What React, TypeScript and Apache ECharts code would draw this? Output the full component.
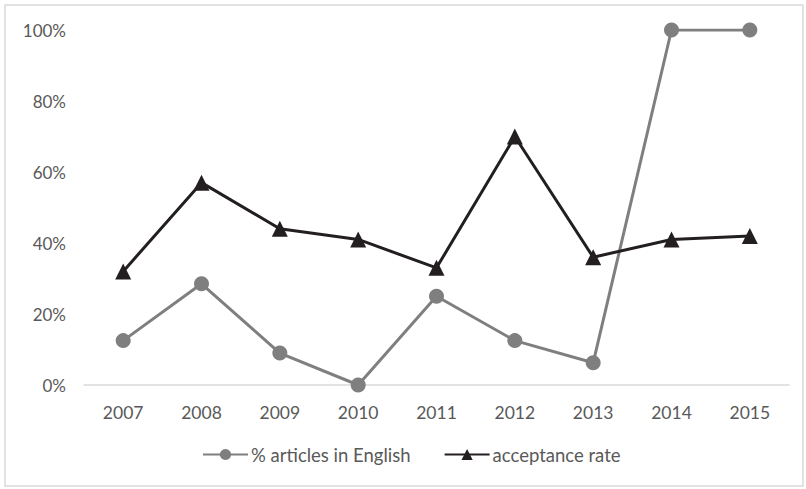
import React, { useEffect, useRef } from "react";
import * as echarts from "echarts";

const years = ["2007", "2008", "2009", "2010", "2011", "2012", "2013", "2014", "2015"];
const englishShare = [0.125, 0.285, 0.09, 0, 0.25, 0.125, 0.0625, 1, 1];
const acceptanceRate = [0.32, 0.57, 0.44, 0.41, 0.33, 0.7, 0.36, 0.41, 0.42];
const seriesNames = ["% articles in English", "acceptance rate"];

const FONT = "Lato, 'Open Sans', sans-serif";
const TEXT = "#595959";

export default function App() {
  const ref = useRef<HTMLDivElement>(null);
  useEffect(() => {
    if (!ref.current) return;
    const chart = echarts.init(ref.current, undefined, { renderer: "svg" });
    chart.setOption({
      animation: false,
      backgroundColor: "#ffffff",
      textStyle: { fontFamily: FONT },
      graphic: [
        {
          type: "rect",
          shape: { x: 5, y: 5, width: 798, height: 481 },
          style: { fill: "none", stroke: "#d9d9d9", lineWidth: 1.5 },
          silent: true,
        },
      ],
      grid: { left: 84, right: 17, top: 30, bottom: 104, containLabel: false },
      legend: {
        bottom: 20,
        left: 197,
        itemWidth: 45,
        itemHeight: 14,
        itemGap: 33,
        textStyle: { color: TEXT, fontSize: 18.5, fontFamily: FONT, padding: [0, 0, 0, -2] },
        data: seriesNames,
      },
      xAxis: {
        type: "category",
        data: years,
        boundaryGap: true,
        axisLine: { lineStyle: { color: "#d9d9d9", width: 1.5 } },
        axisTick: { show: false },
        axisLabel: { color: TEXT, fontSize: 17.5, fontFamily: FONT, margin: 18 },
      },
      yAxis: {
        type: "value",
        min: 0,
        max: 1,
        interval: 0.2,
        splitLine: { show: false },
        axisLine: { show: false },
        axisTick: { show: false },
        axisLabel: {
          color: TEXT,
          fontSize: 17,
          fontFamily: FONT,
          margin: 18,
          formatter: (v: number) => Math.round(v * 100) + "%",
        },
      },
      series: [
        {
          name: seriesNames[0],
          type: "line",
          data: englishShare,
          symbol: "circle",
          symbolSize: 15,
          lineStyle: { color: "#7f7f7f", width: 3 },
          itemStyle: { color: "#7f7f7f" },
        },
        {
          name: seriesNames[1],
          type: "line",
          data: acceptanceRate,
          symbol: "triangle",
          symbolSize: 16,
          lineStyle: { color: "#231f20", width: 3 },
          itemStyle: { color: "#231f20" },
        },
      ],
    });
    return () => chart.dispose();
  }, []);
  return (
    <div
      ref={ref}
      style={{ position: "fixed", left: 0, top: 0, width: 806, height: 489 }}
    />
  );
}
